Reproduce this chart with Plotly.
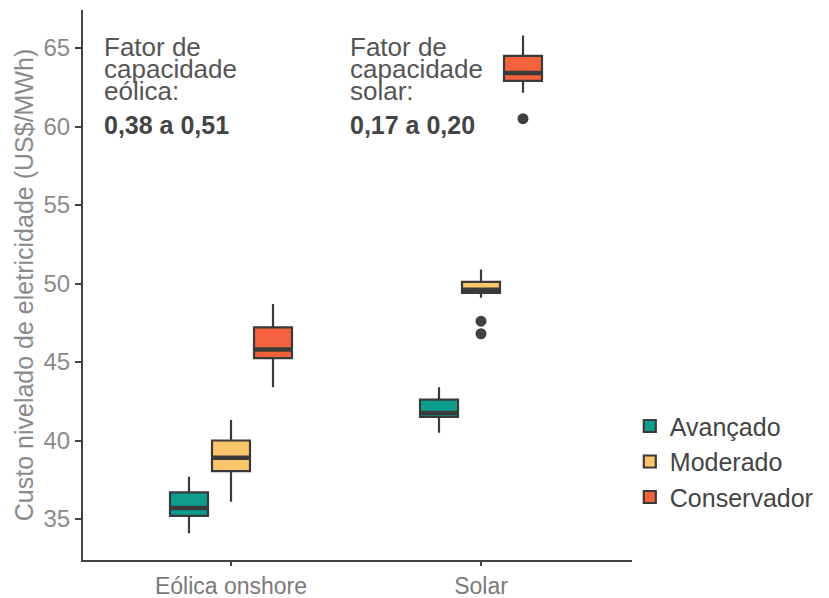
import plotly.graph_objects as go

# ---- data ----
categories = ["Eólica onshore", "Solar"]
series = ["Avançado", "Moderado", "Conservador"]
colors = ["#0E9E8E", "#FAC56B", "#F4623D"]

lowerfence = {"Avançado": [34.1, 40.5], "Moderado": [36.1, 49.1], "Conservador": [43.4, 62.15]}
q1 = {"Avançado": [35.2, 41.5], "Moderado": [38.05, 49.4], "Conservador": [45.25, 62.9]}
median = {"Avançado": [35.7, 41.75], "Moderado": [38.9, 49.6], "Conservador": [45.8, 63.4]}
q3 = {"Avançado": [36.7, 42.6], "Moderado": [40.0, 50.1], "Conservador": [47.2, 64.5]}
upperfence = {"Avançado": [37.7, 43.4], "Moderado": [41.3, 50.9], "Conservador": [48.7, 65.8]}
outliers = {  # (category index, value)
    "Avançado": [],
    "Moderado": [(1, 47.6), (1, 46.8)],
    "Conservador": [(1, 60.5)],
}

y_ticks = [35, 40, 45, 50, 55, 60, 65]

# ---- layout helpers ----
offsets = [-0.168, 0.0, 0.168]
box_w = 0.152
dark = "#3a3a3a"

fig = go.Figure()
for s, name in enumerate(series):
    xs = [i + offsets[s] for i in range(len(categories))]
    fig.add_trace(go.Box(
        name=name, x=xs,
        q1=q1[name], median=median[name], q3=q3[name],
        lowerfence=lowerfence[name], upperfence=upperfence[name],
        width=box_w, whiskerwidth=0,
        fillcolor=colors[s], line=dict(color=dark, width=2.2),
        boxpoints=False, showlegend=True,
    ))
for s, name in enumerate(series):
    mx, my = [], []
    for i in range(len(categories)):
        c = i + offsets[s]
        mx += [c - box_w / 2, c + box_w / 2, None]
        my += [median[name][i], median[name][i], None]
    fig.add_trace(go.Scatter(x=mx, y=my, mode="lines", line=dict(color=dark, width=4.5),
                             showlegend=False, hoverinfo="skip"))
    if outliers[name]:
        fig.add_trace(go.Scatter(
            x=[ci + offsets[s] for ci, _ in outliers[name]],
            y=[v for _, v in outliers[name]],
            mode="markers", marker=dict(color="#404040", size=11),
            showlegend=False, hoverinfo="skip"))

font = "Liberation Sans, Arial, sans-serif"
fig.update_layout(
    width=829, height=598,
    margin=dict(l=83, r=197, t=10, b=38),
    paper_bgcolor="white", plot_bgcolor="white",
    font=dict(family=font, color="#555"),
    boxmode="overlay",
    showlegend=True,
    legend=dict(x=0.996, xanchor="left", y=0.285, yanchor="top",
                font=dict(size=25, color="#444", family=font),
                bgcolor="rgba(0,0,0,0)", tracegroupgap=0),
    xaxis=dict(range=[-0.592, 1.604], tickvals=list(range(len(categories))), ticktext=categories,
               showgrid=False, zeroline=False, showline=True, linecolor="#444", linewidth=2.2,
               ticks="outside", ticklen=4, tickcolor="#444", tickwidth=2, automargin=False,
               tickfont=dict(size=23, color="#7a7a7a")),
    yaxis=dict(range=[32.39, 67.42], tickvals=y_ticks, automargin=False,
               showgrid=False, zeroline=False, showline=True, linecolor="#444", linewidth=2.2,
               ticks="outside", ticklen=6, tickcolor="#444", tickwidth=2,
               tickfont=dict(size=24, color="#8a8a8a"),
               title=dict(text="Custo nivelado de eletricidade (US$/MWh)",
                          font=dict(size=25, color="#8a8a8a"), standoff=3)),
)

def note(xp, lines, bold):
    ys = [0.933, 0.893, 0.853]
    for t, yp in zip(lines, ys):
        fig.add_annotation(xref="paper", yref="paper", x=xp, y=yp, xanchor="left", yanchor="middle",
                           text=t, showarrow=False, font=dict(size=26, color="#555", family=font))
    fig.add_annotation(xref="paper", yref="paper", x=xp, y=0.79, xanchor="left", yanchor="middle",
                       text="<b>" + bold + "</b>", showarrow=False,
                       font=dict(size=25, color="#444", family=font))

note(0.034, ["Fator de", "capacidade", "eólica:"], "0,38 a 0,51")
note(0.482, ["Fator de", "capacidade", "solar:"], "0,17 a 0,20")

fig.write_html("out.html")
